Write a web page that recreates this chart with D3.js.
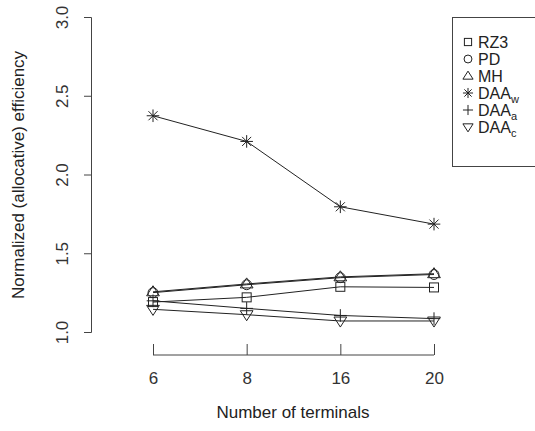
<!DOCTYPE html>
<html><head><meta charset="utf-8">
<script src="https://cdn.jsdelivr.net/npm/d3@7"></script>
<style>body{margin:0;background:#fff}svg{display:block}text{font-family:"Liberation Sans",Arial,sans-serif;fill:#222}</style>
</head><body>
<script>
const categories = ["6","8","16","20"];
const RZ3  = [1.19, 1.22, 1.287, 1.283];
const PD   = [1.25, 1.30, 1.345, 1.365];
const MH   = [1.255, 1.305, 1.35, 1.37];
const DAAw = [2.373, 2.21, 1.795, 1.685];
const DAAa = [1.198, 1.15, 1.105, 1.085];
const DAAc = [1.144, 1.11, 1.07, 1.07];
const yTicks = [1.0, 1.5, 2.0, 2.5, 3.0];
const seriesNames = ["RZ3","PD","MH","DAAw","DAAa","DAAc"];
const seriesVals = [RZ3, PD, MH, DAAw, DAAa, DAAc];
const seriesSym = ["square","circle","triangle","asterisk","plus","triangleDown"];

const W=535,H=431;
const svg=d3.select("body").append("svg").attr("width",W).attr("height",H);
const x=d3.scalePoint().domain(categories).range([153,434]);
const y=d3.scaleLinear().domain([1,3]).range([332,17]);
const col="#222";

function sym(g,type,cx,cy,s){
  const r=s;
  if(type==="square") g.append("rect").attr("x",cx-r).attr("y",cy-r).attr("width",2*r).attr("height",2*r).attr("fill","none").attr("stroke",col);
  else if(type==="circle") g.append("circle").attr("cx",cx).attr("cy",cy).attr("r",r*1.1).attr("fill","none").attr("stroke",col);
  else if(type==="triangle"){const h=r*1.35;g.append("path").attr("d",`M${cx},${cy-h}L${cx+h*1.05},${cy+h*0.65}L${cx-h*1.05},${cy+h*0.65}Z`).attr("fill","none").attr("stroke",col);}
  else if(type==="triangleDown"){const h=r*1.35;g.append("path").attr("d",`M${cx},${cy+h}L${cx+h*1.05},${cy-h*0.65}L${cx-h*1.05},${cy-h*0.65}Z`).attr("fill","none").attr("stroke",col);}
  else if(type==="plus"){const h=r*1.4;g.append("path").attr("d",`M${cx-h},${cy}H${cx+h}M${cx},${cy-h}V${cy+h}`).attr("stroke",col).attr("fill","none");}
  else if(type==="asterisk"){const h=r*1.4;const d=h*0.72;g.append("path").attr("d",`M${cx-h},${cy}H${cx+h}M${cx},${cy-h}V${cy+h}M${cx-d},${cy-d}L${cx+d},${cy+d}M${cx-d},${cy+d}L${cx+d},${cy-d}`).attr("stroke",col).attr("fill","none");}
}

// axes
const yAxis=d3.axisLeft(y).tickValues(yTicks).tickFormat(d3.format(".1f")).tickSize(7).tickPadding(10);
const gy=svg.append("g").attr("transform","translate(91,0)").call(yAxis);
gy.select(".domain").attr("stroke","#444");
gy.selectAll(".tick line").attr("stroke","#444");
gy.selectAll(".tick text").attr("x",0).attr("y",0).attr("dy","0.35em").attr("text-anchor","middle")
  .attr("font-size",17).style("fill","#333").attr("transform","translate(-29,0) rotate(-90)");

const xAxis=d3.axisBottom(x).tickSize(-11).tickPadding(0).tickSizeOuter(0);
const gx=svg.append("g").attr("transform","translate(0,355)").call(xAxis);
gx.select(".domain").attr("stroke","#444").attr("d",`M${x("6")},0H${x("20")}`);
gx.selectAll(".tick line").attr("stroke","#444");
gx.selectAll(".tick text").attr("y",29).attr("dy","0").attr("font-size",17).style("fill","#333");

svg.append("text").attr("x",293).attr("y",418).attr("text-anchor","middle").attr("font-size",17).text("Number of terminals");
svg.append("text").attr("transform","translate(24,175) rotate(-90)").attr("text-anchor","middle").attr("font-size",17).text("Normalized (allocative) efficiency");

// series
const line=d3.line().x((d,i)=>x(categories[i])).y(d=>y(d));
seriesVals.forEach((vals,k)=>{
  const g=svg.append("g");
  g.append("path").attr("d",line(vals)).attr("fill","none").attr("stroke",col).attr("stroke-width",1);
  vals.forEach((v,i)=>sym(g,seriesSym[k],x(categories[i]),y(v),4.5));
});

// legend
const lg=svg.append("g");
lg.append("rect").attr("x",452.5).attr("y",17.5).attr("width",90).attr("height",149).attr("fill","#fff").attr("stroke","#444");
seriesNames.forEach((n,i)=>{
  const cy=42+i*17;
  sym(lg,seriesSym[i],468,cy,3.6);
  const t=lg.append("text").attr("x",478).attr("y",cy).attr("dy","0.36em").attr("font-size",16);
  if(n.startsWith("DAA")){t.append("tspan").text("DAA");t.append("tspan").attr("font-size",11).attr("dy","0.35em").text(n.slice(3));}
  else t.text(n);
});
</script>
</body></html>
